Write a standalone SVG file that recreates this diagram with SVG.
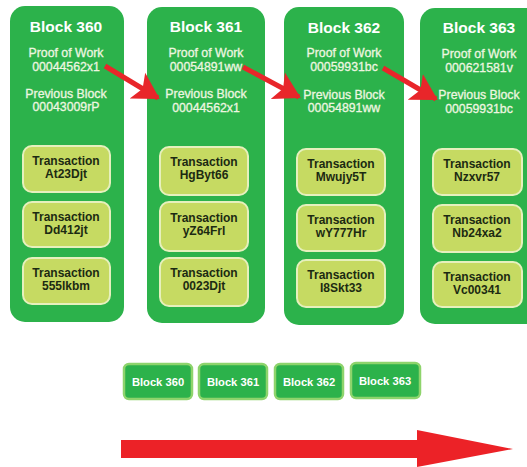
<svg xmlns="http://www.w3.org/2000/svg" width="527" height="467" viewBox="0 0 527 467">
<defs>
<style>
.blk{fill:#2cb24b}
.tx{fill:#c6da62;stroke:#e6f0bd;stroke-width:2}
.title{font-family:"Liberation Sans",Arial,sans-serif;font-weight:bold;font-size:15.5px;fill:#ffffff;text-anchor:middle}
.info{font-family:"Liberation Sans",Arial,sans-serif;font-size:12.3px;fill:#eef6e0;stroke:#eef6e0;stroke-width:0.3;text-anchor:middle}
.ttxt{font-family:"Liberation Sans",Arial,sans-serif;font-weight:bold;font-size:12px;fill:#1c2a12;text-anchor:middle}
.small{fill:#2cb24b;stroke:#8ed46c;stroke-width:2.5}
.stxt{font-family:"Liberation Sans",Arial,sans-serif;font-weight:bold;font-size:11.2px;fill:#ffffff;text-anchor:middle}
.link{stroke:#e8262a;stroke-width:5;fill:none}
</style>
<marker id="ah" markerUnits="userSpaceOnUse" markerWidth="30" markerHeight="34" refX="24" refY="16" orient="auto" viewBox="0 0 30 34">
<path d="M0,1 L26,16 L0,31 L6,16 Z" fill="#e8262a"/>
</marker>
</defs>

<g id="block360">
<rect class="blk" x="10" y="6" width="114" height="316" rx="15"/>
<text class="title" x="66" y="32">Block 360</text>
<text class="info" x="66" y="57">Proof of Work</text>
<text class="info" x="66" y="71">00044562x1</text>
<text class="info" x="66" y="98">Previous Block</text>
<text class="info" x="66" y="111">00043009rP</text>
<rect class="tx" x="23" y="146" width="87" height="46" rx="9"/>
<text class="ttxt" x="66" y="165">Transaction</text>
<text class="ttxt" x="66" y="178">At23Djt</text>
<rect class="tx" x="23" y="202" width="87" height="45" rx="9"/>
<text class="ttxt" x="66" y="221">Transaction</text>
<text class="ttxt" x="66" y="234">Dd412jt</text>
<rect class="tx" x="23" y="258" width="87" height="46" rx="9"/>
<text class="ttxt" x="66" y="277">Transaction</text>
<text class="ttxt" x="66" y="290">555lkbm</text>
</g>

<g id="block361">
<rect class="blk" x="147" y="7" width="118" height="316" rx="15"/>
<text class="title" x="206" y="32">Block 361</text>
<text class="info" x="206" y="57">Proof of Work</text>
<text class="info" x="206" y="71">00054891ww</text>
<text class="info" x="206" y="98">Previous Block</text>
<text class="info" x="206" y="112">00044562x1</text>
<rect class="tx" x="160" y="147" width="88" height="48" rx="9"/>
<text class="ttxt" x="204" y="166">Transaction</text>
<text class="ttxt" x="204" y="179">HgByt66</text>
<rect class="tx" x="160" y="202" width="88" height="49" rx="9"/>
<text class="ttxt" x="204" y="222">Transaction</text>
<text class="ttxt" x="204" y="235">yZ64Frl</text>
<rect class="tx" x="160" y="258" width="88" height="48" rx="9"/>
<text class="ttxt" x="204" y="277">Transaction</text>
<text class="ttxt" x="204" y="290">0023Djt</text>
</g>

<g id="block362">
<rect class="blk" x="284" y="7" width="120" height="318" rx="15"/>
<text class="title" x="344" y="33">Block 362</text>
<text class="info" x="344" y="57">Proof of Work</text>
<text class="info" x="344" y="71">00059931bc</text>
<text class="info" x="344" y="99">Previous Block</text>
<text class="info" x="344" y="112">00054891ww</text>
<rect class="tx" x="297" y="149" width="88" height="46" rx="9"/>
<text class="ttxt" x="341" y="168">Transaction</text>
<text class="ttxt" x="341" y="181">Mwujy5T</text>
<rect class="tx" x="297" y="205" width="88" height="46" rx="9"/>
<text class="ttxt" x="341" y="224">Transaction</text>
<text class="ttxt" x="341" y="237">wY777Hr</text>
<rect class="tx" x="297" y="260" width="88" height="47" rx="9"/>
<text class="ttxt" x="341" y="279">Transaction</text>
<text class="ttxt" x="341" y="292">I8Skt33</text>
</g>

<g id="block363">
<rect class="blk" x="420" y="8" width="120" height="316" rx="15"/>
<text class="title" x="479" y="33">Block 363</text>
<text class="info" x="479" y="58">Proof of Work</text>
<text class="info" x="479" y="72">000621581v</text>
<text class="info" x="479" y="99">Previous Block</text>
<text class="info" x="479" y="113">00059931bc</text>
<rect class="tx" x="433" y="149" width="89" height="46" rx="9"/>
<text class="ttxt" x="477" y="168">Transaction</text>
<text class="ttxt" x="477" y="181">Nzxvr57</text>
<rect class="tx" x="433" y="205" width="89" height="47" rx="9"/>
<text class="ttxt" x="477" y="224">Transaction</text>
<text class="ttxt" x="477" y="237">Nb24xa2</text>
<rect class="tx" x="433" y="262" width="89" height="45" rx="9"/>
<text class="ttxt" x="477" y="281">Transaction</text>
<text class="ttxt" x="477" y="294">Vc00341</text>
</g>

<g id="connectors">
<path class="link" d="M105,66 L158,98" marker-end="url(#ah)"/>
<path class="link" d="M243,67 L299,97" marker-end="url(#ah)"/>
<path class="link" d="M383,68 L436,99" marker-end="url(#ah)"/>
</g>

<g id="chain360"><rect class="small" x="124" y="364" width="68" height="35" rx="5"/><text class="stxt" x="158" y="386">Block 360</text></g>
<g id="chain361"><rect class="small" x="199" y="364" width="68" height="35" rx="5"/><text class="stxt" x="233" y="386">Block 361</text></g>
<g id="chain362"><rect class="small" x="275" y="364" width="68" height="35" rx="5"/><text class="stxt" x="309" y="386">Block 362</text></g>
<g id="chain363"><rect class="small" x="351" y="363" width="69" height="35" rx="5"/><text class="stxt" x="385" y="385">Block 363</text></g>

<g id="timeline">
<polygon points="121,440 417,440 417,430 513,449 417,467 417,458 121,458" fill="#ec2227"/>
</g>
</svg>
